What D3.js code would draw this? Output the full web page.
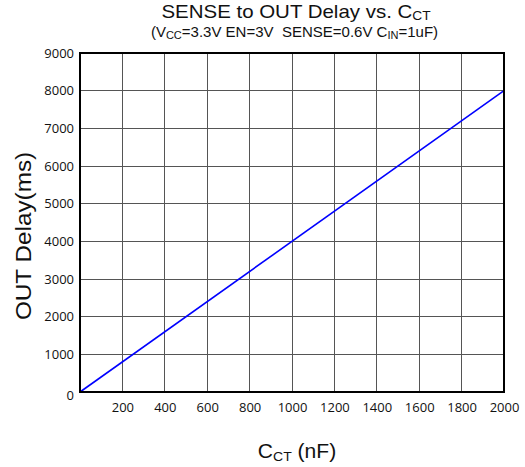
<!DOCTYPE html>
<html><head><meta charset="utf-8">
<script src="https://cdn.jsdelivr.net/npm/d3@7"></script>
<style>body{margin:0;background:#fff}svg{display:block}text{white-space:pre}</style>
</head><body>
<svg id="c" width="525" height="467"></svg>
<script>
const xTicks = [0,200,400,600,800,1000,1200,1400,1600,1800,2000];
const yTicks = [0,1000,2000,3000,4000,5000,6000,7000,8000,9000];
const cct = [0, 2000];
const delay = [0, 8000];

const svg = d3.select("#c");
const m = {l:80, r:504, t:53, b:392};
const x = d3.scaleLinear().domain([0,2000]).range([m.l,m.r]);
const y = d3.scaleLinear().domain([0,9000]).range([m.b,m.t]);
const tickFont = "'Open Sans', 'Liberation Sans', sans-serif";
const font = "'Liberation Sans', Arial, sans-serif";

// grid
const g = svg.append("g");
g.selectAll(".vx").data(xTicks.slice(1,-1)).join("line")
  .attr("x1",d=>x(d)).attr("x2",d=>x(d)).attr("y1",m.t).attr("y2",m.b)
  .attr("stroke","#555").attr("stroke-width",1).attr("shape-rendering","crispEdges");
g.selectAll(".hy").data(yTicks.slice(1,-1)).join("line")
  .attr("x1",m.l).attr("x2",m.r).attr("y1",d=>y(d)).attr("y2",d=>y(d))
  .attr("stroke","#555").attr("stroke-width",1).attr("shape-rendering","crispEdges");

// line
svg.append("path").datum(cct.map((c,i)=>[c,delay[i]]))
  .attr("d", d3.line().x(d=>x(d[0])).y(d=>y(d[1])))
  .attr("fill","none").attr("stroke","#0000ff").attr("stroke-width",1.6);

// frame
svg.append("rect").attr("x",m.l).attr("y",m.t).attr("width",m.r-m.l).attr("height",m.b-m.t)
  .attr("fill","none").attr("stroke","#000").attr("stroke-width",2);

// axes labels
const fmt = d3.format("d");
const xa = svg.append("g").attr("transform",`translate(0,${m.b})`)
  .call(d3.axisBottom(x).tickValues(xTicks.slice(1)).tickFormat(fmt).tickSize(0).tickPadding(11));
xa.select(".domain").remove();
xa.selectAll("text").attr("font-family",tickFont).attr("font-size",13).attr("fill","#111");

const ya = svg.append("g").attr("transform",`translate(${m.l},0)`)
  .call(d3.axisLeft(y).tickValues(yTicks).tickFormat(fmt).tickSize(0).tickPadding(6));
ya.select(".domain").remove();
ya.selectAll("text").attr("font-family",tickFont).attr("font-size",13).attr("fill","#111");
ya.selectAll(".tick").filter(d=>d===0).select("text").attr("dy","0.6em");

// title
const t = svg.append("text").attr("transform","translate(296,18) scale(1.1,1)").attr("text-anchor","middle")
  .attr("font-family",font).attr("font-size",18.6).attr("fill","#111");
t.append("tspan").text("SENSE to OUT Delay vs. C");
t.append("tspan").attr("font-size",12.5).attr("dy",2).text("CT");

const s = svg.append("text").attr("transform","translate(294.5,37) scale(1.05,1)").attr("text-anchor","middle")
  .attr("font-family",font).attr("font-size",14.3).attr("fill","#111");
s.append("tspan").text("(V");
s.append("tspan").attr("font-size",10.5).attr("dy",1.5).text("CC");
s.append("tspan").attr("dy",-1.5).text("=3.3V EN=3V  SENSE=0.6V C");
s.append("tspan").attr("font-size",10.5).attr("dy",1.5).text("IN");
s.append("tspan").attr("dy",-1.5).text("=1uF)");

const xl = svg.append("text").attr("transform","translate(297,458) scale(1.08,1)").attr("text-anchor","middle")
  .attr("font-family",font).attr("font-size",19.5).attr("fill","#111");
xl.append("tspan").text("C");
xl.append("tspan").attr("font-size",13).attr("dy",3).text("CT");
xl.append("tspan").attr("dy",-3).text(" (nF)");

svg.append("text").attr("transform",`translate(31,236) rotate(-90) scale(1.08,1)`)
  .attr("text-anchor","middle").attr("font-family",font).attr("font-size",22.5)
  .attr("fill","#111").text("OUT Delay(ms)");
</script>
</body></html>
